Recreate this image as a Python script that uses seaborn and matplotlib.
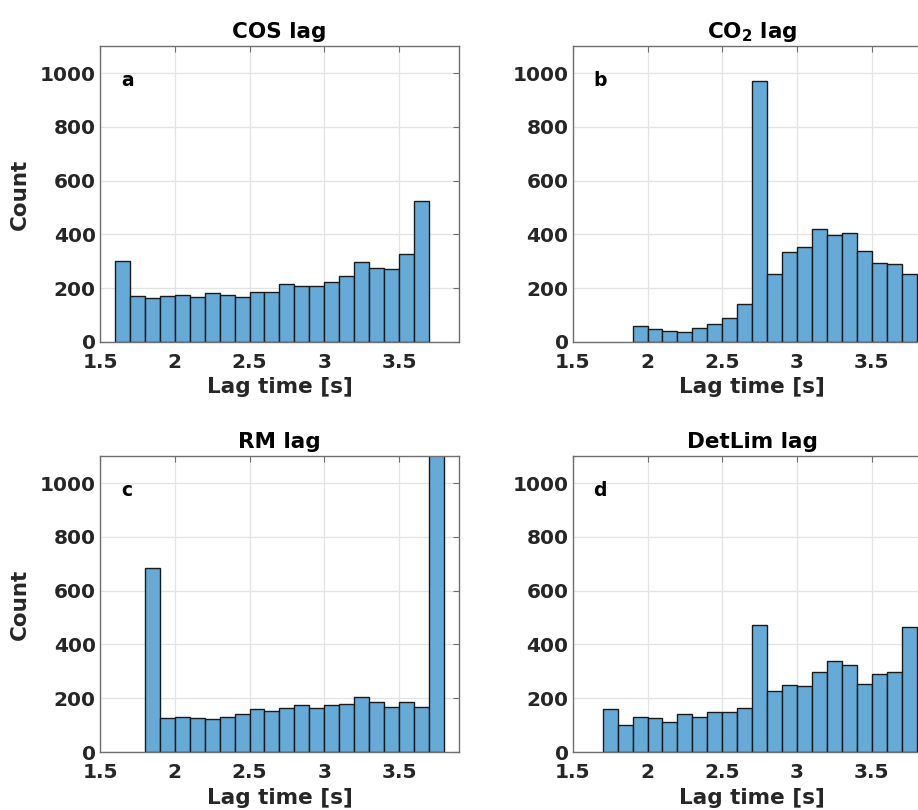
import numpy as np
import pandas as pd
import matplotlib
matplotlib.use("Agg")
import matplotlib.pyplot as plt
import seaborn as sns

# Histogram counts per 0.1 s bin, with the left edge of the first bin
cos_start = 1.6
cos_counts = [302, 169, 163, 169, 175, 165, 183, 175, 165, 185, 185,
              215, 206, 206, 221, 245, 296, 273, 271, 328, 523]

co2_start = 1.9
co2_counts = [60, 47, 42, 35, 50, 65, 89, 139, 970, 251, 333, 352,
              419, 399, 404, 339, 292, 288, 253]

rm_start = 1.8
rm_counts = [685, 127, 131, 127, 123, 131, 142, 159, 153, 162, 174,
             164, 174, 179, 205, 185, 168, 185, 168, 1400]

det_start = 1.7
det_counts = [159, 102, 132, 127, 112, 142, 132, 147, 149, 164, 474,
              228, 250, 244, 299, 340, 325, 254, 292, 296, 466]

titles = ["COS lag", "CO$_\\mathbf{2}$ lag", "RM lag", "DetLim lag"]
letters = ["a", "b", "c", "d"]
x_ticks = [1.5, 2, 2.5, 3, 3.5]
x_tick_labels = ["1.5", "2", "2.5", "3", "3.5"]
y_ticks = [0, 200, 400, 600, 800, 1000]
bin_width = 0.1

sns.set_theme(style="white")
plt.rcParams["font.family"] = ["DejaVu Sans"]
plt.rcParams["font.weight"] = "bold"
plt.rcParams["mathtext.default"] = "bf"

bar_color = "#66AAD7"
text_color = "#262626"

fig = plt.figure(figsize=(9.18, 8.1), dpi=100)
w = 0.391
h = 0.365
positions = [
    [0.1089, 0.578, w, h],
    [0.6239, 0.578, w, h],
    [0.1089, 0.0716, w, h],
    [0.6239, 0.0716, w, h],
]

series = [
    (cos_start, cos_counts),
    (co2_start, co2_counts),
    (rm_start, rm_counts),
    (det_start, det_counts),
]

for i, ((start, counts), pos) in enumerate(zip(series, positions)):
    ax = fig.add_axes(pos)
    n = len(counts)
    centers = start + bin_width * (np.arange(n) + 0.5)
    df = pd.DataFrame({"lag": centers, "count": counts})
    sns.histplot(data=df, x="lag", weights="count", binwidth=bin_width,
                 binrange=(start, start + n * bin_width), ax=ax,
                 color=bar_color, alpha=1.0, edgecolor="#1a1a1a",
                 linewidth=1.0, zorder=2)
    ax.set_xlim(1.5, 3.9)
    ax.set_ylim(0, 1100)
    ax.set_xticks(x_ticks)
    ax.set_xticklabels(x_tick_labels)
    ax.set_yticks(y_ticks)
    ax.grid(True, color="#e3e3e3", linewidth=0.9, zorder=0)
    ax.set_axisbelow(True)
    for sp in ax.spines.values():
        sp.set_visible(True)
        sp.set_color("#6f6f6f")
        sp.set_linewidth(1.0)
        sp.set_zorder(3)
    ax.tick_params(axis="both", which="major", direction="in", length=4,
                   width=0.8, color="#6f6f6f", top=True, right=True,
                   labelsize=14.5, labelcolor=text_color, pad=3)
    ax.tick_params(axis="x", pad=8)
    for lab in ax.get_xticklabels() + ax.get_yticklabels():
        lab.set_fontweight("bold")
    ax.set_title(titles[i], fontsize=15.5, fontweight="bold",
                 color="black", pad=6)
    ax.set_xlabel("Lag time [s]", fontsize=15.5, fontweight="bold",
                  color=text_color, labelpad=4)
    if i % 2 == 0:
        ax.set_ylabel("Count", fontsize=15.5, fontweight="bold",
                      color=text_color, labelpad=7)
    else:
        ax.set_ylabel("")
    ax.text(0.058, 0.885, letters[i], transform=ax.transAxes,
            fontsize=13.5, fontweight="bold", color="black",
            ha="left", va="center", zorder=4)

fig.savefig("out.png", dpi=100)
